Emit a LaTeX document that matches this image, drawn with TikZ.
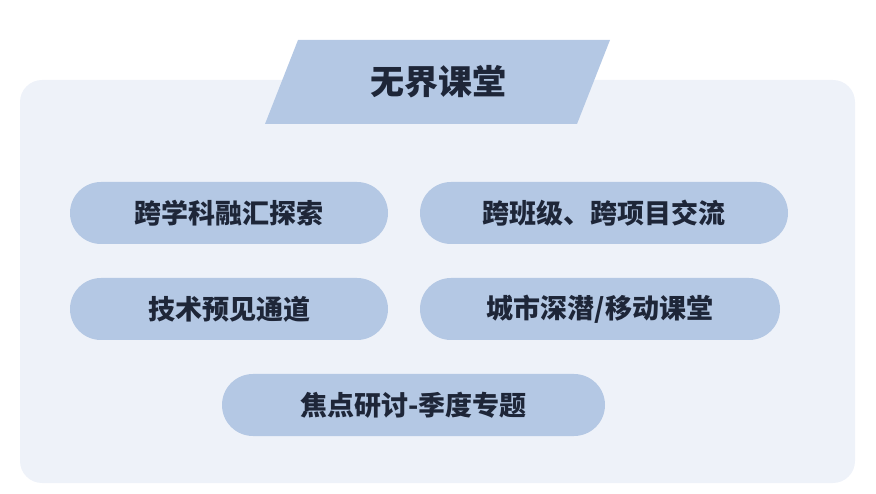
\documentclass[tikz,border=0pt]{standalone}
\usepackage{fontspec}
\newfontfamily\cjk{Noto Sans CJK SC}
\usetikzlibrary{positioning}
\definecolor{panelbg}{HTML}{EEF2F9}
\definecolor{pillblue}{HTML}{B4C8E4}
\definecolor{inkdark}{HTML}{1E2638}
\tikzset{
pill/.style={fill=pillblue, rounded corners=31pt, minimum height=62pt, inner sep=0pt, font=\cjk\bfseries\fontsize{27}{30}\selectfont, text=inkdark}, % topic pills
}
\begin{document}
\begin{tikzpicture}[x=1pt,y=-1pt]
		\useasboundingbox (0,0) rectangle (876,494);
		\fill[panelbg, rounded corners=22pt] (20,80) rectangle (855,483);
		\fill[pillblue] (298,40) -- (610,40) -- (577,124) -- (265,124) -- cycle;
		\node[font=\cjk\bfseries\fontsize{34}{38}\selectfont, text=inkdark] (title) at (438,82) {无界课堂};

		\node[pill, minimum width=318pt] (cross) at (229,213) {跨学科融汇探索};
		\node[pill, minimum width=368pt] (exchange) at (604,213) {跨班级、跨项目交流};
		\node[pill, minimum width=318pt] (tech) at (229,309) {技术预见通道};
		\node[pill, minimum width=360pt] (city) at (600,309) {城市深潜/移动课堂};
		\node[pill, minimum width=383pt] (focus) at (413.5,405) {焦点研讨-季度专题};
	\end{tikzpicture}
\end{document}
